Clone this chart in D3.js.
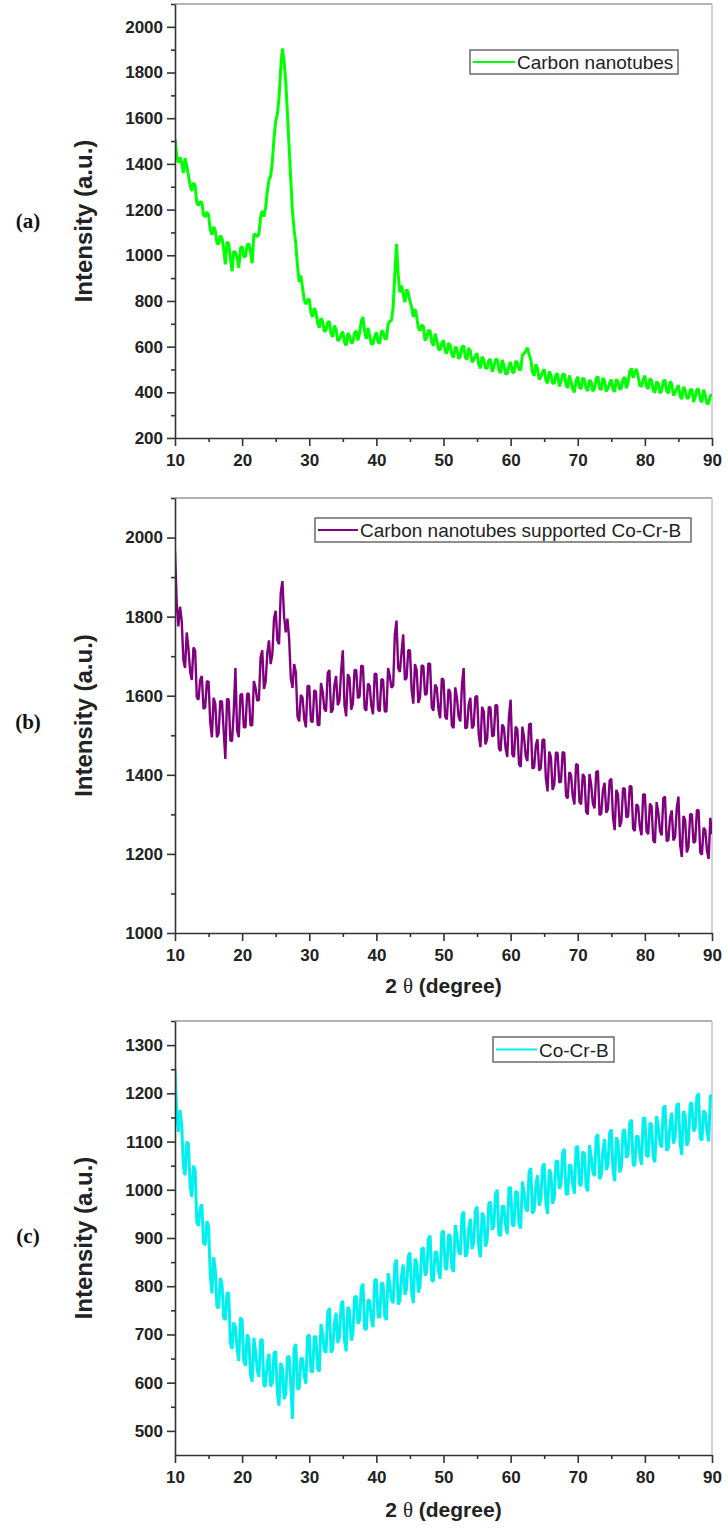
<!DOCTYPE html>
<html>
<head>
<meta charset="utf-8">
<script src="https://cdn.jsdelivr.net/npm/d3@7"></script>
<style>
  body { margin: 0; background: #fff; }
  svg { display: block; font-family: "Liberation Sans", Arial, sans-serif; }
</style>
</head>
<body>
<div id="chart"></div>
<script>
// =========================
// DATA (2 theta grid, 0.25 degree steps, 10..90)
// =========================
const angles = d3.range(10, 90.125, 0.25);

const xTicks = [10, 20, 30, 40, 50, 60, 70, 80, 90];
const xMinorTicks = [15, 25, 35, 45, 55, 65, 75, 85];

// (a) Carbon nanotubes
const cntValues = [
  1510, 1438, 1405, 1428, 1405, 1360, 1425, 1391, 1350, 1306,
  1282, 1317, 1304, 1229, 1218, 1235, 1230, 1177, 1168, 1189,
  1176, 1113, 1090, 1125, 1107, 1052, 1050, 1086, 1074, 1028,
  960, 1059, 1050, 989, 930, 1017, 1013, 987, 945, 1031,
  1038, 993, 995, 1045, 1050, 1015, 965, 1093, 1090, 1081,
  1092, 1167, 1194, 1169, 1208, 1280, 1330, 1347, 1408, 1514,
  1586, 1618, 1690, 1818, 1905, 1850, 1760, 1620, 1474, 1330,
  1190, 1110, 1050, 951, 884, 912, 858, 804, 786, 805,
  808, 749, 730, 769, 750, 703, 683, 725, 710, 665,
  672, 708, 709, 656, 643, 692, 675, 624, 633, 652,
  666, 619, 605, 659, 647, 615, 620, 660, 669, 627,
  660, 711, 730, 666, 634, 682, 648, 611, 611, 645,
  663, 619, 615, 669, 665, 635, 633, 700, 710, 715,
  772, 921, 1050, 916, 838, 867, 830, 794, 850, 835,
  800, 772, 730, 764, 732, 683, 670, 695, 689, 627,
  640, 671, 670, 621, 604, 657, 628, 589, 586, 615,
  628, 579, 570, 616, 605, 565, 553, 600, 590, 547,
  557, 598, 604, 553, 543, 594, 580, 531, 543, 560,
  571, 522, 505, 556, 542, 505, 505, 540, 544, 490,
  510, 543, 545, 498, 484, 542, 518, 481, 481, 515,
  533, 489, 485, 536, 530, 500, 498, 563, 570, 580,
  595, 566, 544, 488, 473, 522, 505, 456, 468, 487,
  501, 454, 440, 491, 477, 440, 440, 477, 482, 426,
  445, 478, 480, 433, 419, 474, 448, 414, 400, 450,
  468, 422, 415, 464, 455, 417, 406, 454, 445, 405,
  417, 461, 469, 419, 410, 463, 450, 404, 418, 440,
  456, 413, 402, 457, 447, 414, 418, 458, 466, 418,
  445, 491, 505, 463, 490, 502, 468, 429, 426, 457,
  473, 424, 415, 461, 450, 410, 398, 447, 438, 396,
  407, 448, 454, 405, 396, 448, 435, 386, 398, 417,
  431, 384, 370, 423, 410, 374, 375, 410, 414, 359,
  378, 412, 415, 369, 356, 412, 386, 350, 351, 385,
  390
];

// (b) Carbon nanotubes supported Co-Cr-B
const cntCoCrBValues = [
  1965, 1835, 1775, 1825, 1790, 1690, 1670, 1760, 1720, 1662,
  1640, 1722, 1715, 1595, 1590, 1640, 1650, 1567, 1570, 1637,
  1635, 1532, 1495, 1595, 1580, 1495, 1505, 1587, 1585, 1512,
  1440, 1592, 1590, 1487, 1485, 1560, 1670, 1512, 1495, 1602,
  1605, 1520, 1520, 1605, 1605, 1525, 1525, 1637, 1620, 1587,
  1590, 1697, 1715, 1617, 1635, 1707, 1740, 1680, 1705, 1795,
  1815, 1740, 1730, 1860, 1890, 1800, 1760, 1795, 1745, 1645,
  1620, 1680, 1660, 1547, 1535, 1602, 1595, 1542, 1520, 1625,
  1625, 1536, 1533, 1614, 1610, 1527, 1525, 1632, 1610, 1567,
  1560, 1657, 1665, 1557, 1565, 1627, 1650, 1576, 1587, 1663,
  1715, 1576, 1548, 1654, 1645, 1565, 1580, 1665, 1665, 1594,
  1598, 1676, 1675, 1568, 1562, 1631, 1625, 1574, 1553, 1656,
  1655, 1565, 1560, 1642, 1640, 1560, 1560, 1670, 1650, 1620,
  1625, 1755, 1790, 1670, 1660, 1710, 1755, 1640, 1645, 1715,
  1715, 1615, 1580, 1680, 1665, 1582, 1595, 1677, 1675, 1602,
  1605, 1682, 1680, 1571, 1562, 1628, 1620, 1566, 1543, 1644,
  1640, 1547, 1540, 1617, 1610, 1524, 1518, 1621, 1595, 1547,
  1535, 1627, 1670, 1517, 1520, 1577, 1595, 1517, 1525, 1597,
  1600, 1502, 1470, 1572, 1560, 1477, 1490, 1572, 1570, 1497,
  1500, 1577, 1575, 1467, 1460, 1527, 1520, 1467, 1445, 1547,
  1590, 1452, 1445, 1522, 1515, 1427, 1420, 1522, 1495, 1447,
  1435, 1527, 1530, 1416, 1418, 1474, 1490, 1411, 1417, 1488,
  1490, 1391, 1358, 1459, 1445, 1362, 1375, 1457, 1455, 1381,
  1382, 1458, 1455, 1347, 1340, 1407, 1400, 1347, 1325, 1427,
  1425, 1332, 1325, 1402, 1395, 1307, 1300, 1402, 1375, 1327,
  1315, 1407, 1410, 1298, 1302, 1361, 1380, 1304, 1313, 1386,
  1390, 1292, 1260, 1362, 1350, 1268, 1282, 1366, 1365, 1292,
  1295, 1372, 1370, 1264, 1258, 1326, 1320, 1268, 1247, 1351,
  1350, 1257, 1250, 1327, 1320, 1234, 1228, 1331, 1305, 1258,
  1247, 1341, 1345, 1232, 1235, 1292, 1310, 1234, 1243, 1316,
  1345, 1223, 1192, 1296, 1285, 1204, 1218, 1301, 1300, 1228,
  1232, 1311, 1310, 1204, 1198, 1266, 1260, 1208, 1187, 1291,
  1250
];

// (c) Co-Cr-B
const coCrBValues = [
  1250, 1160, 1120, 1165, 1135, 1047, 1030, 1100, 1095, 1010,
  985, 1050, 1040, 932, 925, 962, 970, 890, 885, 935,
  925, 825, 785, 860, 835, 757, 755, 817, 805, 735,
  730, 787, 785, 682, 670, 725, 715, 670, 645, 735,
  730, 645, 635, 700, 690, 616, 602, 693, 665, 626,
  612, 688, 690, 592, 595, 642, 660, 592, 600, 662,
  665, 578, 552, 641, 630, 566, 577, 653, 655, 597,
  525, 672, 680, 588, 587, 651, 650, 614, 598, 696,
  700, 623, 622, 696, 695, 629, 623, 721, 700, 668,
  662, 746, 755, 662, 670, 722, 745, 682, 695, 762,
  770, 687, 665, 757, 750, 687, 700, 777, 780, 722,
  730, 797, 805, 712, 710, 772, 770, 732, 715, 812,
  815, 737, 735, 807, 805, 737, 730, 827, 805, 772,
  765, 847, 855, 762, 770, 822, 845, 782, 795, 862,
  870, 787, 765, 857, 850, 787, 800, 877, 880, 822,
  830, 897, 905, 812, 810, 872, 870, 832, 815, 912,
  915, 837, 835, 907, 905, 837, 830, 927, 905, 872,
  865, 947, 955, 861, 867, 918, 940, 877, 890, 957,
  965, 882, 860, 952, 945, 882, 895, 972, 975, 917,
  925, 992, 1000, 907, 905, 967, 965, 926, 908, 1004,
  1005, 927, 925, 997, 995, 927, 920, 1017, 995, 962,
  955, 1037, 1045, 951, 957, 1008, 1030, 967, 980, 1047,
  1055, 972, 950, 1042, 1035, 971, 983, 1059, 1060, 1002,
  1010, 1077, 1085, 992, 990, 1052, 1050, 1011, 992, 1088,
  1090, 1011, 1008, 1079, 1075, 1006, 997, 1093, 1070, 1036,
  1028, 1109, 1115, 1022, 1030, 1082, 1105, 1041, 1052, 1118,
  1125, 1041, 1018, 1109, 1100, 1036, 1047, 1123, 1125, 1066,
  1073, 1139, 1145, 1052, 1050, 1112, 1110, 1071, 1052, 1148,
  1150, 1071, 1068, 1139, 1135, 1066, 1057, 1153, 1130, 1096,
  1088, 1169, 1175, 1081, 1087, 1138, 1160, 1096, 1108, 1174,
  1180, 1096, 1072, 1163, 1155, 1091, 1103, 1179, 1180, 1121,
  1127, 1193, 1200, 1106, 1103, 1164, 1160, 1120, 1100, 1195,
  1195
];

const yTicksA = [200, 400, 600, 800, 1000, 1200, 1400, 1600, 1800, 2000];
const yMinorA = [300, 500, 700, 900, 1100, 1300, 1500, 1700, 1900, 2100];
const yTicksB = [1000, 1200, 1400, 1600, 1800, 2000];
const yMinorB = [1100, 1300, 1500, 1700, 1900, 2100];
const yTicksC = [500, 600, 700, 800, 900, 1000, 1100, 1200, 1300];
const yMinorC = [550, 650, 750, 850, 950, 1050, 1150, 1250, 1350];

// =========================
// SVG SETUP
// =========================
const W = 728, H = 1535;
const left = 175, right = 712;

const svg = d3.select("#chart")
  .append("svg")
  .attr("width", W)
  .attr("height", H);

svg.append("rect").attr("width", W).attr("height", H).attr("fill", "#fff");

const x = d3.scaleLinear().domain([10, 90]).range([left, right]);

function drawPanel(p) {
  const y = d3.scaleLinear().domain(p.yDomain).range([p.bottom, p.top]);
  const g = svg.append("g");

  // frame (top / right)
  g.append("line")
    .attr("x1", left).attr("x2", right)
    .attr("y1", p.top).attr("y2", p.top)
    .attr("stroke", "#9a9a9a").attr("stroke-width", 1.5);
  g.append("line")
    .attr("x1", right).attr("x2", right)
    .attr("y1", p.top).attr("y2", p.bottom)
    .attr("stroke", "#c4c4c4").attr("stroke-width", 1.5);

  // clip
  const clipId = "clip-" + p.id;
  svg.append("clipPath").attr("id", clipId)
    .append("rect")
    .attr("x", left).attr("y", p.top)
    .attr("width", right - left).attr("height", p.bottom - p.top);

  // data line
  const line = d3.line()
    .x((d, i) => x(angles[i]))
    .y(d => y(d));

  g.append("path")
    .datum(p.values)
    .attr("clip-path", `url(#${clipId})`)
    .attr("fill", "none")
    .attr("stroke", p.color)
    .attr("stroke-width", p.width)
    .attr("stroke-linejoin", "bevel")
    .attr("d", line);

  // minor ticks
  g.append("g")
    .attr("transform", `translate(0,${p.bottom})`)
    .call(d3.axisBottom(x).tickValues(xMinorTicks).tickSize(4).tickFormat(""))
    .call(a => a.select(".domain").remove());
  g.append("g")
    .attr("transform", `translate(${left},0)`)
    .call(d3.axisLeft(y).tickValues(p.yMinor.filter(v => v <= p.yDomain[1])).tickSize(4).tickFormat(""))
    .call(a => a.select(".domain").remove());

  // major axes
  g.append("g")
    .attr("transform", `translate(0,${p.bottom})`)
    .call(d3.axisBottom(x).tickValues(xTicks).tickFormat(d3.format("d"))
      .tickSize(8).tickSizeOuter(0).tickPadding(8));

  g.append("g")
    .attr("transform", `translate(${left},0)`)
    .call(d3.axisLeft(y).tickValues(p.yTicks).tickFormat(d3.format("d"))
      .tickSize(8).tickSizeOuter(0).tickPadding(4));

  g.selectAll(".tick line, path.domain")
    .attr("stroke", "#333")
    .attr("stroke-width", 1.6);

  g.selectAll(".tick text")
    .attr("fill", "#222")
    .style("font-size", "17px")
    .style("font-weight", "bold");

  // y title
  g.append("text")
    .attr("transform", `translate(92,${(p.top + p.bottom) / 2}) rotate(-90)`)
    .attr("text-anchor", "middle")
    .style("font-size", "24px")
    .style("font-weight", "bold")
    .attr("fill", "#222")
    .text("Intensity (a.u.)");

  // panel label
  g.append("text")
    .attr("x", 28)
    .attr("y", p.labelY)
    .attr("text-anchor", "middle")
    .style("font-family", "'Liberation Serif', 'Times New Roman', serif")
    .style("font-size", "21px")
    .style("font-weight", "bold")
    .attr("fill", "#111")
    .text(p.label);

  // x title
  if (p.xTitleY) {
    const t = g.append("text")
      .attr("x", (left + right) / 2)
      .attr("y", p.xTitleY)
      .attr("text-anchor", "middle")
      .style("font-size", "21px")
      .style("font-weight", "bold")
      .attr("fill", "#222");
    t.append("tspan").text("2 ");
    t.append("tspan")
      .style("font-family", "'Liberation Serif', serif")
      .style("font-weight", "normal")
      .text("θ");
    t.append("tspan").text(" (degree)");
  }

  // legend
  const lg = p.legend;
  g.append("rect")
    .attr("x", lg.x).attr("y", lg.y)
    .attr("width", lg.w).attr("height", lg.h)
    .attr("fill", "#fff")
    .attr("stroke", "#6a6a6a")
    .attr("stroke-width", 1.5);
  g.append("line")
    .attr("x1", lg.x + 3).attr("x2", lg.x + lg.sample)
    .attr("y1", lg.y + lg.h / 2).attr("y2", lg.y + lg.h / 2)
    .attr("stroke", p.color)
    .attr("stroke-width", 2);
  g.append("text")
    .attr("x", lg.x + lg.sample + 2)
    .attr("y", lg.y + lg.h - 5)
    .style("font-size", "19px")
    .attr("fill", "#222")
    .text(p.name);
}

drawPanel({
  id: "a", label: "(a)", labelY: 228, name: "Carbon nanotubes",
  values: cntValues, color: "#00ff00", width: 3,
  top: 4, bottom: 438, yDomain: [200, 2100], yTicks: yTicksA, yMinor: yMinorA,
  legend: { x: 470, y: 50, w: 208, h: 24, sample: 45 }
});

drawPanel({
  id: "b", label: "(b)", labelY: 729, name: "Carbon nanotubes supported Co-Cr-B",
  values: cntCoCrBValues, color: "#800080", width: 2.4,
  top: 498, bottom: 933, yDomain: [1000, 2100], yTicks: yTicksB, yMinor: yMinorB,
  xTitleY: 993,
  legend: { x: 315, y: 518, w: 376, h: 24, sample: 43 }
});

drawPanel({
  id: "c", label: "(c)", labelY: 1243, name: "Co-Cr-B",
  values: coCrBValues, color: "#00f0f0", width: 3,
  top: 1021, bottom: 1455, yDomain: [450, 1350], yTicks: yTicksC, yMinor: yMinorC,
  xTitleY: 1517,
  legend: { x: 493, y: 1037, w: 121, h: 25, sample: 44 }
});
</script>
</body>
</html>
